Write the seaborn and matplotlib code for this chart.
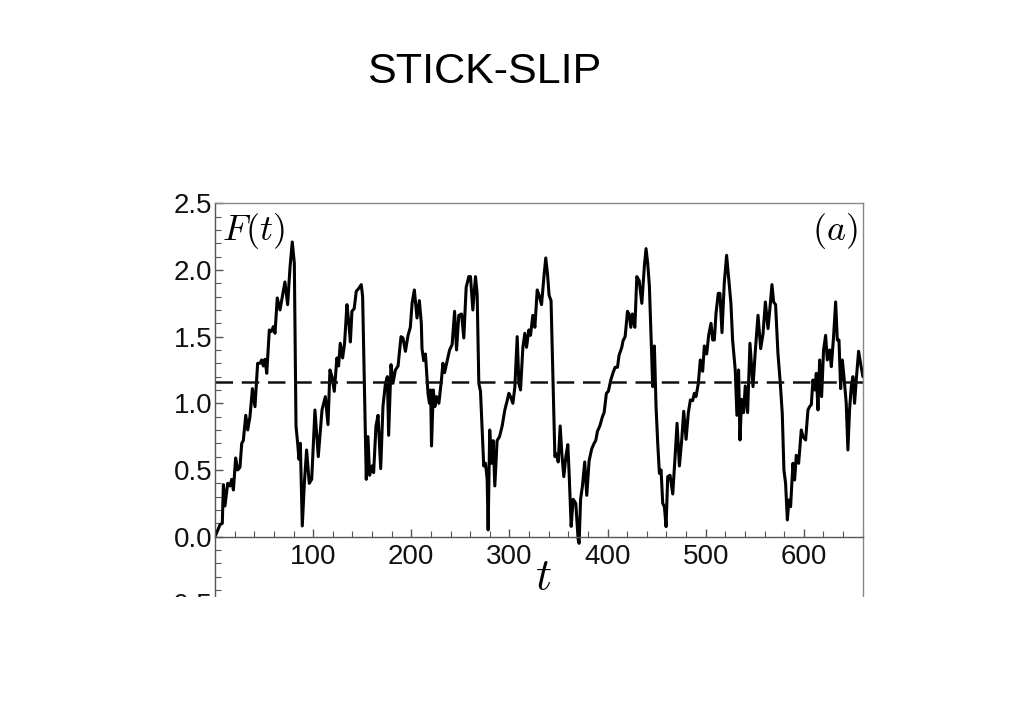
import numpy as np
import pandas as pd
import matplotlib
matplotlib.use('Agg')
import matplotlib.pyplot as plt
from matplotlib.patches import Rectangle
from matplotlib.ticker import MultipleLocator
import seaborn as sns

# F(t), one stick-slip cycle per block
t_1 = [0, 1.7, 5.1, 7.4, 8.5, 10.1, 12.9, 15.3, 17.0, 18.7, 21.0, 23.1, 25.4, 27.2, 28.8,
       31.3, 33.3, 35.6, 38.1, 40.7, 43.4, 45.8, 47.5, 49.2, 50.9, 52.7, 55.3, 57.7, 59.4,
       61.1, 63.4, 66.2, 68.6, 71.2, 74.0, 76.4, 78.7, 80.8, 82.5, 84.2, 85.5, 86.9, 88.9,
       91.0, 93.3, 96.0, 98.5, 101.8, 105.2]
f_1 = [0.0, 0.03, 0.09, 0.10, 0.39, 0.23, 0.40, 0.38, 0.43, 0.35, 0.59, 0.50, 0.52, 0.70, 0.72,
       0.91, 0.80, 0.90, 1.11, 0.975, 1.30, 1.30, 1.325, 1.28, 1.33, 1.225, 1.55, 1.54, 1.575,
       1.525, 1.79, 1.70, 1.80, 1.91, 1.74, 2.02, 2.21, 2.05, 0.83, 0.70, 0.58, 0.70, 0.08,
       0.40, 0.65, 0.40, 0.43, 0.95, 0.60]

t_2 = [109.0, 112.4, 115.1, 117.1, 119.2, 121.5, 124.2, 125.9, 127.6, 130.0, 132.0, 134.4,
       136.1, 137.9, 139.5, 141.8, 143.9, 146.3, 149.0, 150.4, 154.1, 155.8, 157.5, 159.9,
       161.6, 164.0, 166.1, 168.8, 171.1, 173.5, 175.6, 176.9, 179.3, 181.3, 183.8, 186.5,
       189.5, 191.5, 194.0, 196.7, 199.0, 200.8, 203.1, 205.8, 208.2, 210.2, 210.9, 212.6,
       214.4, 217.0]
f_2 = [0.95, 1.05, 0.84, 1.25, 1.20, 1.09, 1.34, 1.28, 1.45, 1.34, 1.45, 1.74,
       1.62, 1.46, 1.69, 1.71, 1.84, 1.86, 1.89, 1.80, 0.43, 0.75, 0.46, 0.53,
       0.48, 0.83, 0.91, 0.51, 0.975, 1.14, 1.20, 0.76, 1.29, 1.15, 1.25, 1.28,
       1.50, 1.49, 1.39, 1.51, 1.57, 1.75, 1.85, 1.64, 1.77, 1.60, 1.41, 1.32,
       1.37, 1.075]

t_3 = [218.5, 219.7, 220.6, 222.4, 224.0, 225.7, 228.1, 230.7, 232.2, 233.9, 236.6, 239.0,
       241.6, 244.1, 246.1, 248.4, 251.2, 253.5, 255.9, 258.6, 260.3, 262.7, 265.4, 267.1,
       268.8, 270.5, 272.3, 273.8, 275.6, 277.3, 278.3, 279.9, 281.7, 283.4, 285.1, 287.4,
       289.9, 292.6, 295.3, 297.7, 299.4, 301.1, 303.5, 305.5, 307.9, 309.6, 311.3, 313.7,
       315.7, 317.4, 319.8, 321.5, 323.8, 325.9, 328.3, 330.2, 332.7, 335.4, 337.0, 338.8,
       340.4, 342.4]
f_3 = [1.0, 1.10, 0.68, 1.10, 0.975, 1.05, 1.00, 1.175, 1.30, 1.23, 1.32, 1.40,
       1.44, 1.69, 1.40, 1.66, 1.67, 1.49, 1.87, 1.95, 1.95, 1.70, 1.95, 1.82,
       1.15, 1.09, 0.78, 0.53, 0.55, 0.43, 0.05, 0.80, 0.55, 0.72, 0.38, 0.72,
       0.75, 0.83, 0.95, 1.02, 1.075, 1.05, 1.0, 1.12, 1.50, 1.15, 1.10, 1.42,
       1.525, 1.42, 1.55, 1.51, 1.66, 1.57, 1.85, 1.81, 1.74, 1.97, 2.09, 1.97,
       1.81, 1.77]

t_4 = [344.5, 346.3, 347.9, 349.7, 351.7, 353.4, 355.4, 357.5, 359.5, 360.8, 362.9, 364.9,
       367.6, 370.0, 371.0, 372.5, 374.4, 376.7, 378.8, 381.2, 383.9, 386.3, 387.9, 389.7,
       392.1, 394.8, 396.5, 398.8, 400.8, 403.3, 405.6, 407.7, 410.1, 411.7, 414.5, 415.8,
       417.9, 420.3, 421.9, 423.7, 425.3, 427.8, 429.8, 432.2, 434.9, 437.5, 439.2, 440.9,
       442.6, 444.3]
f_4 = [1.15, 0.60, 0.62, 0.56, 0.83, 0.62, 0.45, 0.60, 0.69, 0.48, 0.077, 0.28,
       0.25, -0.02, -0.05, 0.28, 0.38, 0.56, 0.31, 0.57, 0.66, 0.70, 0.72, 0.79,
       0.83, 0.90, 0.93, 1.075, 1.09, 1.175, 1.23, 1.27, 1.27, 1.36, 1.42, 1.47,
       1.50, 1.69, 1.67, 1.57, 1.67, 1.57, 1.95, 1.92, 1.75, 2.03, 2.16, 2.05,
       1.88, 1.50]

t_5 = [446.0, 447.7, 449.4, 451.1, 452.8, 454.5, 456.2, 457.9, 459.6, 461.3, 463.7, 466.4,
       468.8, 470.8, 473.2, 475.6, 477.6, 480.0, 482.3, 484.4, 486.7, 488.4, 490.1, 492.5,
       494.5, 496.9, 498.6, 501.0, 503.0, 505.4, 507.1, 508.8, 510.5, 512.8, 514.5, 516.6,
       518.9, 521.3, 523.3, 525.7, 527.4, 530.1, 531.8, 533.5, 534.9, 536.6, 538.6, 540.3,
       542.7, 545.1]
f_5 = [1.125, 1.43, 0.975, 0.70, 0.475, 0.50, 0.25, 0.225, 0.075, 0.45, 0.46, 0.32,
       0.60, 0.85, 0.53, 0.73, 0.94, 0.73, 0.93, 1.025, 1.02, 1.075, 1.05, 1.15,
       1.325, 1.24, 1.43, 1.37, 1.51, 1.60, 1.475, 1.475, 1.675, 1.825, 1.825, 1.53,
       1.90, 2.11, 1.95, 1.75, 1.475, 1.25, 0.91, 1.25, 0.725, 1.03, 0.93, 1.13,
       0.93, 1.45]

t_6 = [546.5, 548.2, 550.6, 553.3, 556.0, 558.4, 560.8, 563.5, 565.9, 567.5, 569.2, 571.2,
       573.6, 576.0, 578.0, 579.7, 581.4, 583.2, 584.8, 586.5, 588.9, 590.6, 592.3, 594.7,
       597.4, 599.1, 601.8, 604.2, 605.9, 607.6, 609.3, 611.3, 612.7, 614.4, 616.1, 618.1,
       620.1, 622.2, 623.9, 626.3, 628.0, 630.3, 632.4, 634.1, 635.8, 637.5, 639.2, 640.9,
       643.2, 644.9, 646.6, 648.3, 650.0, 651.7, 653.4, 655.8, 657.8, 660.2]
f_6 = [1.30, 1.125, 1.40, 1.66, 1.41, 1.52, 1.76, 1.56, 1.75, 1.89, 1.76, 1.74,
       1.375, 1.15, 0.925, 0.50, 0.40, 0.125, 0.275, 0.225, 0.55, 0.425, 0.61, 0.55,
       0.80, 0.75, 0.725, 0.95, 0.975, 0.99, 1.175, 1.10, 1.225, 0.95, 1.325, 1.05,
       1.40, 1.51, 1.325, 1.40, 1.275, 1.50, 1.76, 1.475, 1.475, 1.11, 1.325, 1.20,
       1.0, 0.65, 0.95, 1.125, 1.20, 1.0, 1.175, 1.39, 1.30, 1.20]

mean_force = 1.16
x_ticks = [100, 200, 300, 400, 500, 600]
y_ticks = [-0.5, 0.0, 0.5, 1.0, 1.5, 2.0, 2.5]

df = pd.DataFrame({
    't': t_1 + t_2 + t_3 + t_4 + t_5 + t_6,
    'F': f_1 + f_2 + f_3 + f_4 + f_5 + f_6,
})

sns.set_style('white')
plt.rcParams['font.family'] = ['Liberation Sans', 'DejaVu Sans']
plt.rcParams['mathtext.fontset'] = 'cm'
plt.rcParams['text.color'] = 'black'

fig = plt.figure(figsize=(10.24, 7.24), dpi=100)
ax = fig.add_axes([0.2100, 0.1667, 0.6325, 0.5525])

sns.lineplot(data=df, x='t', y='F', color='black', linewidth=2.2,
             sort=False, estimator=None, ax=ax)
ax.axhline(mean_force, color='#111111', linewidth=1.8, dashes=(7, 3.5))

ax.set_xlim(0, 660)
ax.set_ylim(-0.5, 2.5)
ax.set_xlabel('')
ax.set_ylabel('')

# Mathematica-style axes: x axis through zero, frame on top/right
ax.spines['bottom'].set_position(('data', 0))
for side in ['left', 'bottom']:
    ax.spines[side].set_color('#555555')
    ax.spines[side].set_linewidth(1.0)
for side in ['top', 'right']:
    ax.spines[side].set_color('#888888')
    ax.spines[side].set_linewidth(1.0)

ax.set_xticks(x_ticks)
ax.set_xticklabels([str(v) for v in x_ticks])
ax.set_yticks(y_ticks)
ax.set_yticklabels([f'{v:.1f}' for v in y_ticks])
ax.xaxis.set_minor_locator(MultipleLocator(20))
ax.yaxis.set_minor_locator(MultipleLocator(0.1))
ax.tick_params(axis='both', which='both', direction='in', color='#555555',
               labelsize=20, labelcolor='#111111', bottom=True, left=True,
               top=False, right=False)
ax.tick_params(axis='both', which='major', length=6, width=1)
ax.tick_params(axis='both', which='minor', length=4, width=0.8)
ax.tick_params(axis='x', which='major', pad=5)
ax.tick_params(axis='y', which='major', pad=2)

ax.text(0.011, 0.98, r'$F(t)$', transform=ax.transAxes, fontsize=26,
        ha='left', va='top')
ax.text(0.992, 0.98, r'$(a)$', transform=ax.transAxes, fontsize=26,
        ha='right', va='top')
fig.text(543 / 1024, 1 - 577 / 724, r'$t$', fontsize=32, ha='center', va='center')

fig.text(484 / 1024, 1 - 72 / 724, 'STICK-SLIP', fontsize=31, ha='center', va='center')

# the source picture is cut off just below the x axis labels
fig.add_artist(Rectangle((0, 0), 1, 1 - 597 / 724, transform=fig.transFigure,
                         facecolor='white', edgecolor='none', zorder=10))

fig.savefig('out.png', dpi=100)
